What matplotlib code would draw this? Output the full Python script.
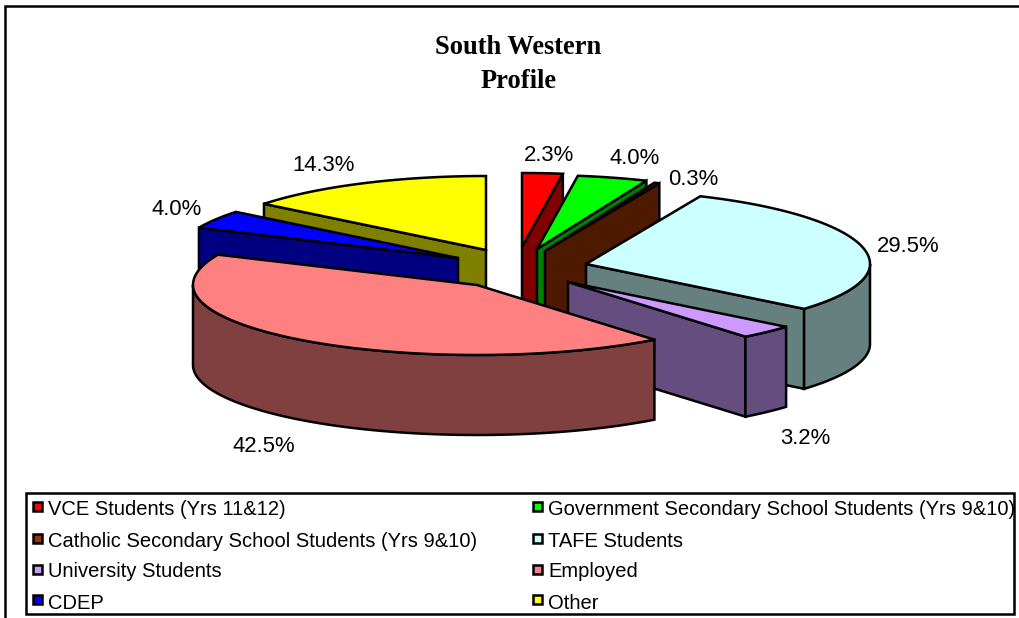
import numpy as np
import matplotlib
matplotlib.use("Agg")
import matplotlib.pyplot as plt
from matplotlib.patches import Polygon, Rectangle

TITLE = "South Western\nProfile"
categories = ["VCE Students (Yrs 11&12)", "Government Secondary School Students (Yrs 9&10)",
              "Catholic Secondary School Students (Yrs 9&10)", "TAFE Students",
              "University Students", "Employed", "CDEP", "Other"]
values = [2.3, 4.0, 0.3, 29.5, 3.2, 42.5, 4.0, 14.3]
top_colors = ["#FF0000", "#00FF00", "#993300", "#CCFFFF", "#CC99FF", "#FF8080", "#0000FF", "#FFFF00"]
wall_colors = ["#800000", "#008000", "#4D1A00", "#668080", "#664D80", "#804040", "#000080", "#808000"]

# layout (pixels): exploded apex of each slice, and label centres
apex_x = [522, 537, 545, 586, 568, 477, 458, 486]
apex_y = [247, 249, 251, 264, 282, 285, 258, 250]
label_x = [549, 635, 693, 908, 805, 264, 177, 324]
label_y = [155.5, 159, 179.5, 246, 438.5, 446, 209.5, 165.5]
RX, RY_FRONT, RY_BACK, DEPTH = 284, 70, 74, 80
LW = 1.8

fig = plt.figure(figsize=(10.2, 6.18), dpi=100, facecolor="white")
ax = fig.add_axes([0, 0, 1, 1])
ax.set_xlim(0, 1020)
ax.set_ylim(618, 0)
ax.axis("off")

ax.plot([5.5, 5.5, 1020], [618, 5.5, 5.5], color="black", lw=LW, solid_joinstyle="miter")


def rim(cx, cy, a, b):
    t = np.radians(np.linspace(a, b, max(int(abs(b - a) * 2), 2)))
    c = np.cos(t)
    ry = np.where(c >= 0, RY_BACK, RY_FRONT)
    return np.column_stack([cx + RX * np.sin(t), cy - ry * c])


total = sum(values)
edges = np.concatenate([[0], np.cumsum(values)]) / total * 360
pstyle = dict(edgecolor="black", lw=LW, joinstyle="miter")
order = [7, 6, 0, 1, 2, 3, 4, 5]
for z, i in enumerate(order):
    cx, cy = apex_x[i], apex_y[i]
    a, b = edges[i], edges[i + 1]
    wall = wall_colors[i]
    # cut faces that look towards the viewer
    for ang, show in ((b, 0 < b < 180), (a, 180 < a < 360)):
        if show:
            p = rim(cx, cy, ang, ang)[0]
            face = [(cx, cy), p, (p[0], p[1] + DEPTH), (cx, cy + DEPTH)]
            ax.add_patch(Polygon(face, closed=True, facecolor=wall, zorder=z * 3 + 1, **pstyle))
    # outer rim, front half only
    lo, hi = max(a, 90), min(b, 270)
    if lo < hi:
        r = rim(cx, cy, lo, hi)
        poly = np.vstack([r, r[::-1] + [0, DEPTH]])
        ax.add_patch(Polygon(poly, closed=True, facecolor=wall, zorder=z * 3 + 2, **pstyle))
    # top
    poly = np.vstack([[cx, cy], rim(cx, cy, a, b)])
    ax.add_patch(Polygon(poly, closed=True, facecolor=top_colors[i], zorder=z * 3 + 3, **pstyle))

for x, y, v in zip(label_x, label_y, values):
    ax.text(x, y, f"{v:.1f}%", ha="center", va="center", fontsize=15.9,
            family="Liberation Sans", color="black", zorder=50)

for k, line in enumerate(TITLE.split("\n")):
    ax.text(518.5, 47 + 34 * k, line, ha="center", va="center", fontsize=19.1, weight="bold",
            family="Liberation Serif", color="black", zorder=50)

# legend
ax.add_patch(Rectangle((26, 493), 988, 121, facecolor="white", edgecolor="black", lw=LW, zorder=60))
key_x = [33, 533]
key_y = [506.5, 538.5, 569.5, 599.5]
text_y = [509.5, 541.5, 571.5, 603.5]
for i, (name, col) in enumerate(zip(categories, top_colors)):
    kx, row = key_x[i % 2], i // 2
    ax.add_patch(Rectangle((kx, key_y[row] - 4.5), 9, 9, facecolor=col, edgecolor="black", lw=LW, zorder=61))
    ax.text(kx + 15, text_y[row], name, ha="left", va="center", fontsize=14.5,
            family="Liberation Sans", color="black", zorder=61)

fig.savefig("out.png", dpi=100, facecolor="white")
